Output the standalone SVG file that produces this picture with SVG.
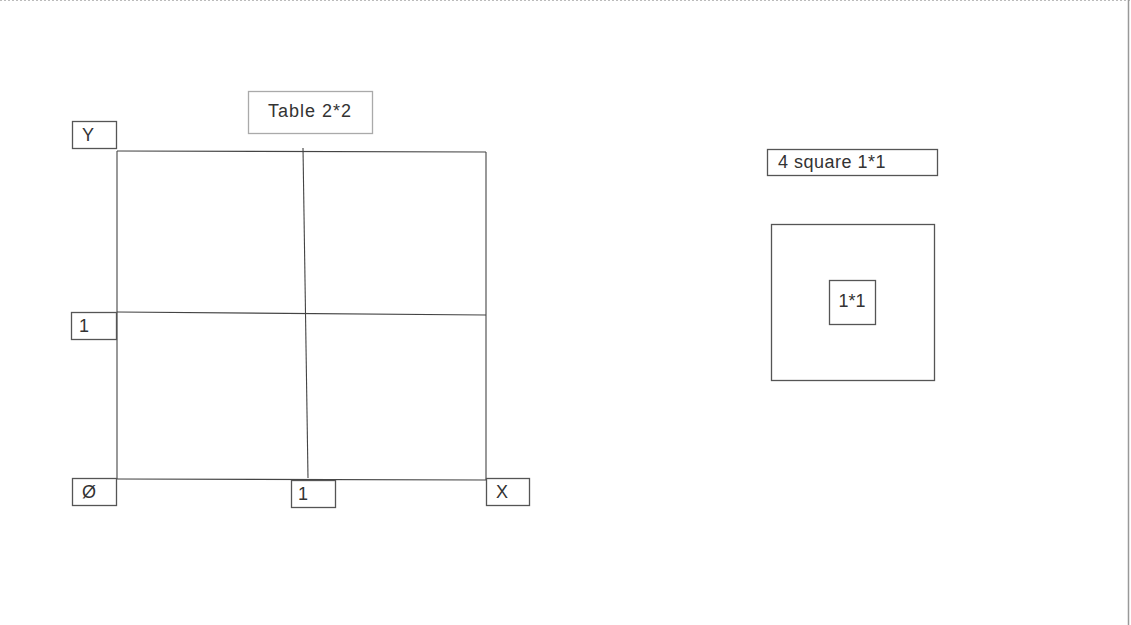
<svg xmlns="http://www.w3.org/2000/svg" width="1131" height="625" viewBox="0 0 1131 625">
<style>
.box{fill:#fff;stroke:#555;stroke-width:1.3}
.lbox{fill:#fff;stroke:#aaa;stroke-width:1.3}
.ln{fill:none;stroke:#444;stroke-width:1.1}
.t{font-family:"Liberation Sans",Arial,sans-serif;font-size:18px;fill:#333;text-anchor:middle;dominant-baseline:central}
</style>
<rect width="1131" height="625" fill="#fff"/>
<line x1="0" y1="0.5" x2="1131" y2="0.5" stroke="#bbb" stroke-dasharray="2,2"/>
<line x1="1128.5" y1="0" x2="1128.5" y2="625" stroke="#999" stroke-width="1.5"/>
<g id="connectors">
<path class="ln" d="M117 151 L486 152"/>
<path class="ln" d="M117 312 L486 315"/>
<path class="ln" d="M117 479 L486 480"/>
<path class="ln" d="M117 151 L117 479"/>
<path class="ln" d="M486 152 L486 480"/>
<path class="ln" d="M303 148 L308 478"/>
</g>
<g id="title"><rect class="lbox" x="248.5" y="91.5" width="124" height="42"/><text class="t" x="310" y="111" font-size="21" letter-spacing="1">Table 2*2</text></g>
<g id="y-label"><rect class="box" x="72.5" y="121.5" width="44" height="27"/><text class="t" x="88" y="135">Y</text></g>
<g id="one-left"><rect class="box" x="71.5" y="312.5" width="45" height="27"/><text class="t" x="84" y="326">1</text></g>
<g id="zero"><rect class="box" x="72.5" y="478.5" width="44" height="27"/><text class="t" x="89" y="492">Ø</text></g>
<g id="one-bottom"><rect class="box" x="291.5" y="480.5" width="44" height="27"/><text class="t" x="303" y="494">1</text></g>
<g id="x-label"><rect class="box" x="486.5" y="478.5" width="43" height="27"/><text class="t" x="502" y="492">X</text></g>
<g id="square-label"><rect class="box" x="767.5" y="149.5" width="170" height="26"/><text class="t" x="832" y="162" font-size="20" letter-spacing="0.5">4 square 1*1</text></g>
<g id="outer-square"><rect class="box" x="771.5" y="224.5" width="163" height="156"/></g>
<g id="unit-square"><rect class="box" x="829.5" y="280.5" width="46" height="44"/><text class="t" x="852" y="301">1*1</text></g>
</svg>
